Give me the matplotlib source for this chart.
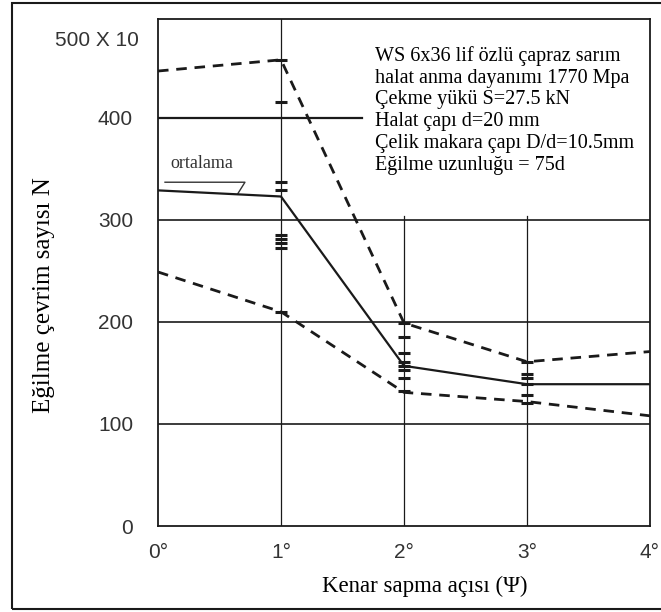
import numpy as np
import matplotlib.pyplot as plt
from matplotlib.patches import Rectangle

# data (x in degrees, y in cycles / 10)
angles = [0, 1, 2, 3, 4]
upper = [446, 457, 199, 161, 171]
mean = [329, 323, 157, 139, 139]
lower = [249, 210, 131, 122, 108]

# scatter of individual test results (short horizontal ticks on the grid lines)
pts_x = [1, 1, 1, 1, 1, 1, 1, 1, 1,
         2, 2, 2, 2, 2, 2, 2, 2,
         3, 3, 3, 3, 3, 3]
pts_y = [457, 416, 337, 329, 285, 281, 277, 273, 210,
         199, 185, 170, 161, 157, 153, 145, 132,
         161, 149, 145, 139, 128, 121]

yticks = [0, 100, 200, 300, 400]
xticklabels = ['0°', '1°', '2°', '3°', '4°']

info = ("WS 6x36 lif özlü çapraz sarım\n"
        "halat anma dayanımı 1770 Mpa\n"
        "Çekme yükü S=27.5 kN\n"
        "Halat çapı d=20 mm\n"
        "Çelik makara çapı D/d=10.5mm\n"
        "Eğilme uzunluğu = 75d")

fig = plt.figure(figsize=(6.61, 6.12), dpi=100)
ax = fig.add_axes([158/661, 86/612, 492/661, 507/612])
ax.set_xlim(0, 4)
ax.set_ylim(0, 497)

serif = ['Liberation Serif', 'DejaVu Serif']
sans = ['Liberation Sans', 'DejaVu Sans']
ink = '#1a1a1a'

# grid, drawn by hand like the original figure
for v in [100, 200, 300]:
    ax.axhline(v, color=ink, lw=1.2, zorder=1)
ax.plot([0, 1.66], [400, 400], color=ink, lw=1.6, zorder=1)
ax.axvline(1, color=ink, lw=0.9, zorder=1)
ax.plot([2, 2], [0, 304], color=ink, lw=0.9, zorder=1)
ax.plot([3, 3], [0, 304], color=ink, lw=0.9, zorder=1)

# curves
ax.plot(angles, upper, color=ink, lw=2, dashes=(3.8, 2.8), zorder=3)
ax.plot(angles, lower, color=ink, lw=2, dashes=(3.8, 2.8), zorder=3)
ax.plot(angles, mean, color=ink, lw=1.6, zorder=3)
ax.plot(pts_x, pts_y, ls='none', marker='_', ms=9, mew=2.2, color=ink, zorder=4)

# "ortalama" callout
ax.text(0.10, 355, 'ortalama', fontsize=13, family=serif, color='#333',
        va='center', ha='left')
ax.plot([0.057, 0.707, 0.65], [337, 337, 326], color='#333', lw=1.0)

ax.text(0.441, 0.947, info, transform=ax.transAxes, fontsize=14.5, family=serif,
        va='top', ha='left', color='black', linespacing=1.2)

# axes styling
for s in ax.spines.values():
    s.set_linewidth(1.3)
    s.set_color(ink)
ax.set_yticks(yticks)
ax.set_yticklabels([str(t) for t in yticks], fontsize=15, family=sans, color='#333')
ax.set_xticks(angles)
ax.set_xticklabels(xticklabels, fontsize=15, family=sans, color='#333')
ax.tick_params(axis='y', length=0, pad=18)
ax.tick_params(axis='x', length=0, pad=12)
ax.text(-0.039, 476, '500 X 10', transform=ax.get_yaxis_transform(),
        fontsize=15, family=sans, color='#333', ha='right', va='center')

ax.set_xlabel('Kenar sapma açısı (Ψ)', fontsize=16.5, family=serif)
ax.xaxis.set_label_coords(0.543, -0.098)
ax.set_ylabel('Eğilme çevrim sayısı N', fontsize=18, family=serif)
ax.yaxis.set_label_coords(-0.209, 0.456)

# outer frame around the whole picture
fig.patches.append(Rectangle((12/661, 3/612), 1.2, 606/612, transform=fig.transFigure,
                             fill=False, lw=1.5, edgecolor=ink))

fig.savefig('out.png', dpi=100)
